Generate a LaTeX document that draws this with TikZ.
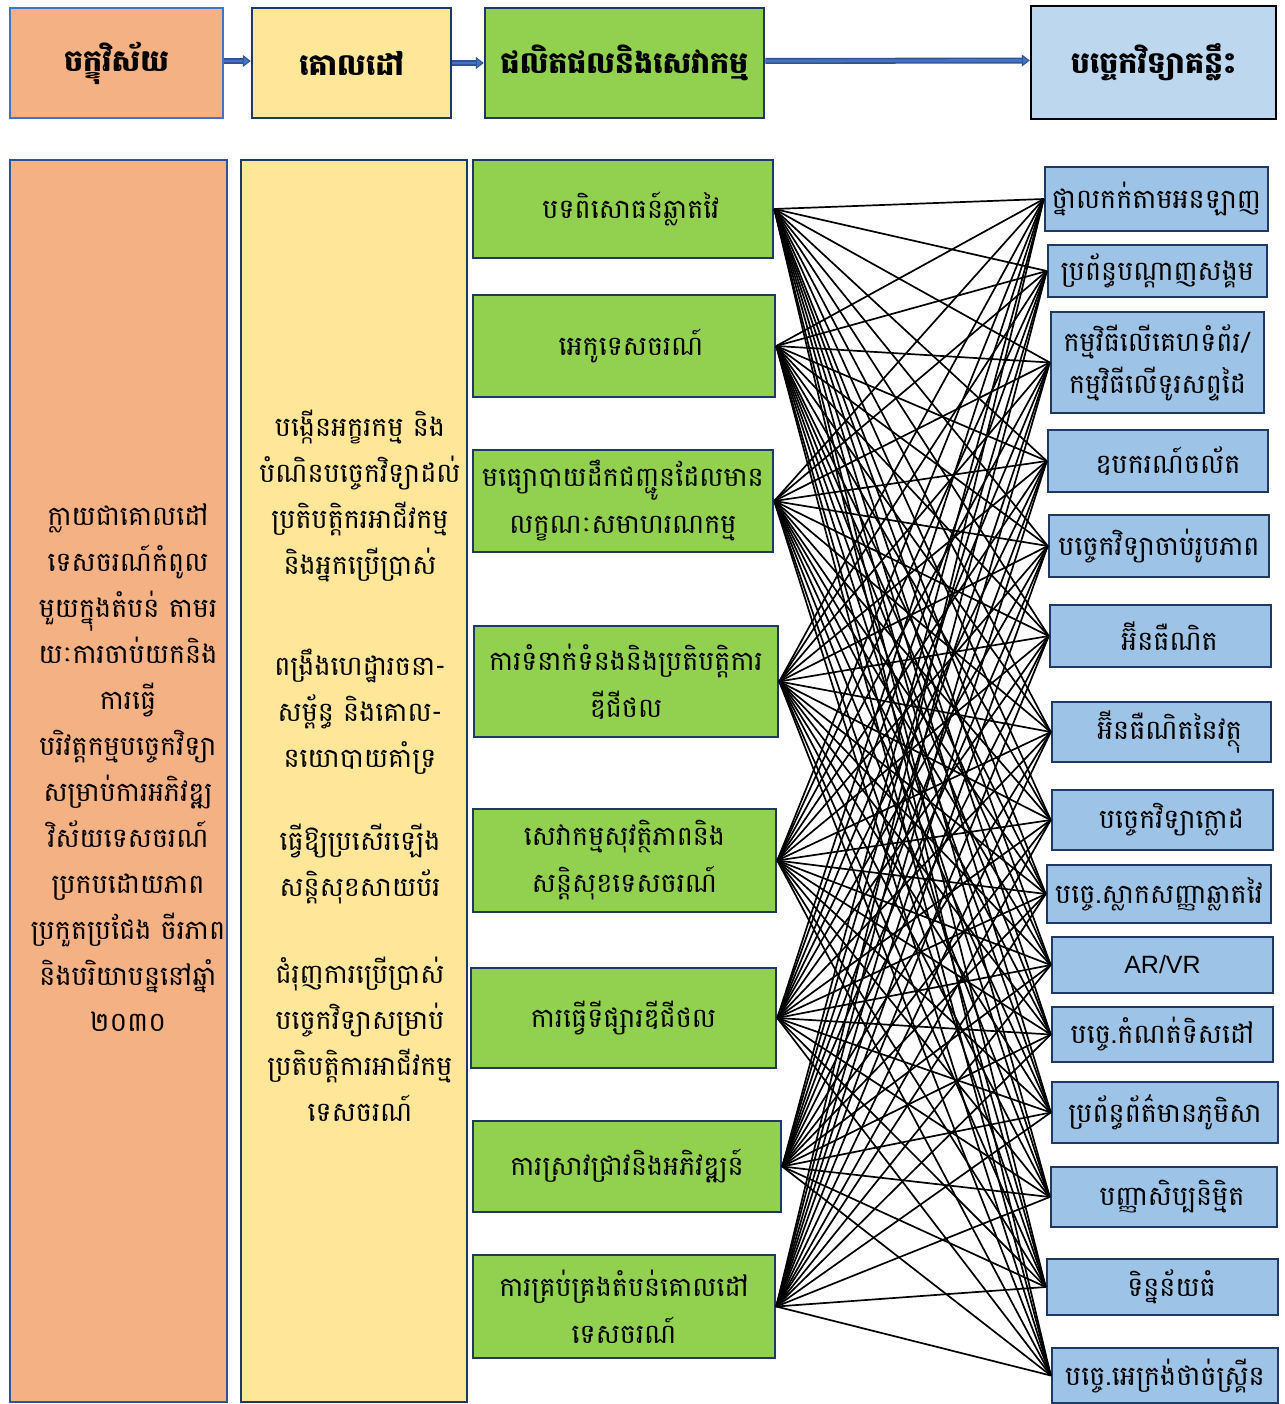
\documentclass[tikz,border=0pt]{standalone}
\usepackage{fontspec}
\setmainfont[Script=Khmer]{Battambang}
\newfontfamily\kh[Script=Khmer]{Battambang}
\newfontfamily\latf{Liberation Sans}
\usetikzlibrary{arrows.meta}
\definecolor{corange}{HTML}{F4B183}
\definecolor{cyellow}{HTML}{FFE699}
\definecolor{cgreen}{HTML}{92D050}
\definecolor{clightblue}{HTML}{BDD7EE}
\definecolor{cblue}{HTML}{9DC3E6}
\definecolor{cnavy}{HTML}{203864}
\definecolor{carrow}{HTML}{4472C4}
\definecolor{cdarkarrow}{HTML}{2F5597}
\tikzset{
  hdr/.style={inner sep=0pt, line width=2.5pt, font={\kh\bfseries\fontsize{30}{36}\selectfont}},
  body/.style={inner sep=0pt, align=center, font={\kh\fontsize{27}{46}\selectfont}},
  gbox/.style={draw=cnavy, fill=cgreen, line width=2.5pt, inner sep=0pt, align=center, font={\kh\fontsize{27}{47}\selectfont}},
  bbox/.style={draw=cnavy, fill=cblue, line width=2.5pt, inner sep=0pt, align=center, font={\kh\fontsize{27}{42}\selectfont}},
  textright/.style={execute at begin node={\hspace*{#1}}},
  conn/.style={draw=black, line width=1.7pt},
  hdrarrowout/.style={draw=cdarkarrow, line width=6pt, -{Triangle[length=8pt,width=12pt,fill=carrow,line width=1pt]}},
  hdrarrowin/.style={draw=carrow, line width=2.8pt}
}
\begin{document}
\begin{tikzpicture}[x=1pt,y=-1pt]
\useasboundingbox (0,0) rectangle (1284,1404);
\fill[white] (0,0) rectangle (1284,1404);
% header row
\node[hdr, draw=carrow, fill=corange, minimum width=213pt, minimum height=110pt] (h1) at (116.5,63) {ចក្ខុវិស័យ};
\node[hdr, draw=cnavy, fill=cyellow, minimum width=199pt, minimum height=110pt] (h2) at (351.5,63) {គោលដៅ};
\node[hdr, draw=cnavy, fill=cgreen, minimum width=279pt, minimum height=110pt] (h3) at (624.5,63) {ផលិតផលនិងសេវាកម្ម};
\node[hdr, draw=black, fill=clightblue, minimum width=245pt, minimum height=113pt] (h4) at (1153.5,62.5) {បច្ចេកវិទ្យាគន្លឹះ};
% header arrows
\coordinate (a1s) at ([yshift=2pt]h1.east);
\coordinate (a1e) at ([yshift=2pt]h2.west);
\coordinate (a2s) at (h2.east);
\coordinate (a2e) at (h3.west);
\coordinate (a3s) at ([yshift=2pt]h3.east);
\coordinate (a3e) at ([yshift=2pt]h4.west);
\foreach \s/\e in {a1s/a1e, a2s/a2e, a3s/a3e}{
  \draw[hdrarrowout] (\s) -- (\e);
  \draw[hdrarrowin, shorten >=8pt] (\s) -- (\e);
}
% tall columns
\node[draw=cdarkarrow, fill=corange, line width=2pt, minimum width=217pt, minimum height=1242pt, inner sep=0pt] (vis) at (118.5,781) {};
\node[body] (vistext) at (128,768) {ក្លាយជាគោលដៅ\\ទេសចរណ៍កំពូល\\មួយក្នុងតំបន់ តាមរ\\យៈការចាប់យកនិង\\ការធ្វើ\\បរិវត្តកម្មបច្ចេកវិទ្យា\\សម្រាប់ការអភិវឌ្ឍ\\វិស័យទេសចរណ៍\\ប្រកបដោយភាព\\ប្រកួតប្រជែង ចីរភាព\\និងបរិយាបន្ននៅឆ្នាំ\\២០៣០};
\node[draw=cnavy, fill=cyellow, line width=2.5pt, minimum width=226pt, minimum height=1242pt, inner sep=0pt] (goal) at (354,781) {};
\node[body] (goal1) at (360,496) {បង្កើនអក្ខរកម្ម និង\\បំណិនបច្ចេកវិទ្យាដល់\\ប្រតិបត្តិករអាជីវកម្ម\\និងអ្នកប្រើប្រាស់};
\node[body] (goal2) at (360,712) {ពង្រឹងហេដ្ឋារចនា-\\សម្ព័ន្ធ និងគោល-\\នយោបាយគាំទ្រ};
\node[body] (goal3) at (360,864) {ធ្វើឱ្យប្រសើរឡើង\\សន្តិសុខសាយប័រ};
\node[body] (goal4) at (360,1039) {ជំរុញការប្រើប្រាស់\\បច្ចេកវិទ្យាសម្រាប់\\ប្រតិបត្តិការអាជីវកម្ម\\ទេសចរណ៍};
% green boxes
\node[gbox, textright=16pt, minimum width=300pt, minimum height=98pt] (g1) at (623,209) {បទពិសោធន៍ឆ្លាតវៃ};
\node[gbox, textright=14pt, minimum width=302pt, minimum height=102pt] (g2) at (624,346) {អេកូទេសចរណ៍};
\node[gbox, minimum width=300pt, minimum height=102pt] (g3) at (623,501) {មធ្យោបាយដឹកជញ្ជូនដែលមាន\\លក្ខណៈសមាហរណកម្ម};
\node[gbox, minimum width=304pt, minimum height=111pt] (g4) at (626,681.5) {ការទំនាក់ទំនងនិងប្រតិបត្តិការ\\ឌីជីថល};
\node[gbox, minimum width=303pt, minimum height=103pt] (g5) at (624.5,860.5) {សេវាកម្មសុវត្ថិភាពនិង\\សន្តិសុខទេសចរណ៍};
\node[gbox, minimum width=305pt, minimum height=100pt] (g6) at (623.5,1018) {ការធ្វើទីផ្សារឌីជីថល};
\node[gbox, minimum width=308pt, minimum height=91pt] (g7) at (627,1166.5) {ការស្រាវជ្រាវនិងអភិវឌ្ឍន៍};
\node[gbox, minimum width=302pt, minimum height=103pt] (g8) at (624,1306.5) {ការគ្រប់គ្រងតំបន់គោលដៅ\\ទេសចរណ៍};
% blue boxes
\node[bbox, minimum width=223pt, minimum height=64pt] (b1) at (1156.5,199) {ថ្នាលកក់តាមអនឡាញ};
\node[bbox, minimum width=219pt, minimum height=52pt] (b2) at (1157.5,271) {ប្រព័ន្ធបណ្ដាញសង្គម};
\node[bbox, minimum width=213pt, minimum height=101pt] (b3) at (1157.5,362.5) {កម្មវិធីលើគេហទំព័រ/\\កម្មវិធីលើទូរសព្ទដៃ};
\node[bbox, textright=20pt, minimum width=220pt, minimum height=62pt] (b4) at (1158,461) {ឧបករណ៍ចល័ត};
\node[bbox, minimum width=220pt, minimum height=62pt] (b5) at (1159,546) {បច្ចេកវិទ្យាចាប់រូបភាព};
\node[bbox, textright=18pt, minimum width=221pt, minimum height=62pt] (b6) at (1160.5,636) {អ៊ីនធឺណិត};
\node[bbox, textright=16pt, minimum width=219pt, minimum height=60pt] (b7) at (1161.5,732) {អ៊ីនធឺណិតនៃវត្ថុ};
\node[bbox, textright=18pt, minimum width=221pt, minimum height=60pt] (b8) at (1162.5,820) {បច្ចេកវិទ្យាក្លោដ};
\node[bbox, minimum width=224pt, minimum height=58pt] (b9) at (1159,894) {បច្ចេ.ស្លាកសញ្ញាឆ្លាតវៃ};
\node[bbox, minimum width=221pt, minimum height=56pt, font={\latf\fontsize{25}{30}\selectfont}] (b10) at (1162.5,965) {AR/VR};
\node[bbox, minimum width=221pt, minimum height=55pt] (b11) at (1162.5,1034.5) {បច្ចេ.កំណត់ទិសដៅ};
\node[bbox, minimum width=226pt, minimum height=61pt] (b12) at (1165,1112.5) {ប្រព័ន្ធព័ត៌មានភូមិសា};
\node[bbox, textright=16pt, minimum width=226pt, minimum height=60pt] (b13) at (1164,1197) {បញ្ញាសិប្បនិម្មិត};
\node[bbox, textright=18pt, minimum width=231pt, minimum height=56pt] (b14) at (1162.5,1287) {ទិន្នន័យធំ};
\node[bbox, minimum width=226pt, minimum height=55pt] (b15) at (1165,1375.5) {បច្ចេ.អេក្រង់ថាច់ស្គ្រីន};
% connectors
\foreach \g in {1,...,8}{
  \foreach \b in {1,...,15}{
    \draw[conn] (g\g.east) -- (b\b.west);
  }
}
\end{tikzpicture}
\end{document}
